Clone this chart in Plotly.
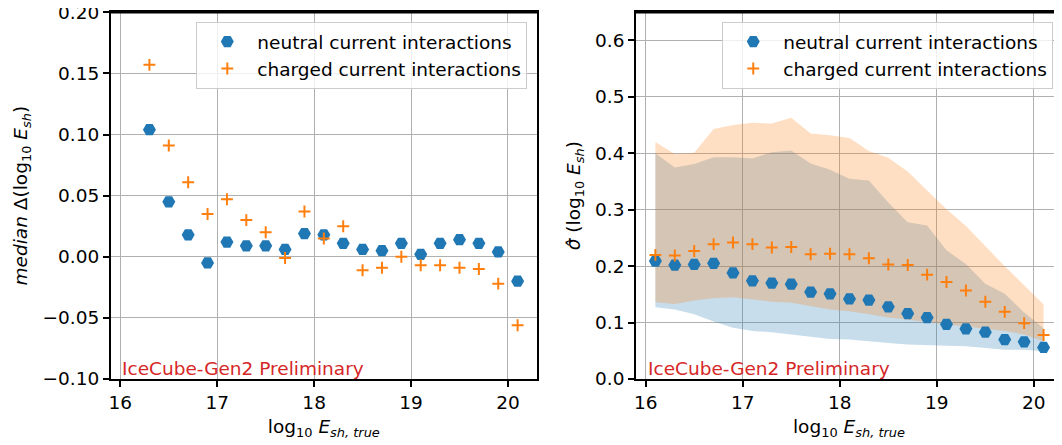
import plotly.graph_objects as go

# ---------------- data ----------------
x_left = [16.3, 16.5, 16.7, 16.9, 17.1, 17.3, 17.5, 17.7, 17.9, 18.1,
          18.3, 18.5, 18.7, 18.9, 19.1, 19.3, 19.5, 19.7, 19.9, 20.1]
nc_median = [0.104, 0.045, 0.018, -0.005, 0.012, 0.009, 0.009, 0.006, 0.019, 0.018,
             0.011, 0.006, 0.005, 0.011, 0.002, 0.011, 0.014, 0.011, 0.004, -0.020]
cc_median = [0.157, 0.091, 0.061, 0.035, 0.047, 0.030, 0.020, -0.001, 0.037, 0.015,
             0.025, -0.011, -0.009, 0.000, -0.007, -0.007, -0.009, -0.010, -0.022, -0.056]

x_right = [16.1, 16.3, 16.5, 16.7, 16.9, 17.1, 17.3, 17.5, 17.7, 17.9, 18.1,
           18.3, 18.5, 18.7, 18.9, 19.1, 19.3, 19.5, 19.7, 19.9, 20.1]
nc_sigma = [0.209, 0.202, 0.203, 0.205, 0.188, 0.174, 0.170, 0.168, 0.154, 0.151, 0.142,
            0.140, 0.128, 0.116, 0.109, 0.097, 0.089, 0.083, 0.070, 0.066, 0.056]
cc_sigma = [0.220, 0.219, 0.227, 0.239, 0.242, 0.239, 0.233, 0.234, 0.221, 0.222, 0.221,
            0.214, 0.203, 0.202, 0.185, 0.172, 0.157, 0.137, 0.119, 0.099, 0.078]
nc_upper = [0.400, 0.375, 0.381, 0.393, 0.393, 0.391, 0.402, 0.405, 0.382, 0.371, 0.355,
            0.352, 0.313, 0.278, 0.272, 0.228, 0.204, 0.169, 0.151, 0.118, 0.090]
nc_lower = [0.127, 0.123, 0.115, 0.102, 0.091, 0.085, 0.083, 0.079, 0.075, 0.071, 0.070,
            0.067, 0.064, 0.061, 0.060, 0.059, 0.058, 0.055, 0.052, 0.052, 0.049]
cc_upper = [0.420, 0.399, 0.401, 0.443, 0.450, 0.454, 0.453, 0.463, 0.435, 0.432, 0.427,
            0.404, 0.392, 0.368, 0.334, 0.301, 0.271, 0.235, 0.200, 0.166, 0.132]
cc_lower = [0.136, 0.133, 0.139, 0.143, 0.145, 0.141, 0.137, 0.135, 0.129, 0.123, 0.120,
            0.115, 0.109, 0.105, 0.102, 0.098, 0.093, 0.089, 0.085, 0.079, 0.067]

x_ticks = [16, 17, 18, 19, 20]
y_ticks_left = [-0.10, -0.05, 0.00, 0.05, 0.10, 0.15, 0.20]
y_ticks_right = [0.0, 0.1, 0.2, 0.3, 0.4, 0.5, 0.6]

nc_name = "neutral current interactions"
cc_name = "charged current interactions"
watermark = "IceCube-Gen2 Preliminary"

BLUE = "#1f77b4"
ORANGE = "#ff7f0e"
RED = "#d62728"
FONT = "DejaVu Sans"
FS = 18.5

fig = go.Figure()

hex_marker = dict(symbol="hexagon2", size=13, color=BLUE)
plus_marker = dict(symbol="cross-thin", size=8.5, color=ORANGE,
                   line=dict(color=ORANGE, width=2))

# ---------------- left panel ----------------
fig.add_trace(go.Scatter(x=x_left, y=nc_median, mode="markers", name=nc_name,
                         marker=hex_marker, legendgroup="nc",
                         xaxis="x", yaxis="y", legend="legend"))
fig.add_trace(go.Scatter(x=x_left, y=cc_median, mode="markers", name=cc_name,
                         marker=plus_marker, legendgroup="cc",
                         xaxis="x", yaxis="y", legend="legend"))

# ---------------- right panel ----------------
fig.add_trace(go.Scatter(x=x_right + x_right[::-1], y=nc_upper + nc_lower[::-1],
                         fill="toself", fillcolor="rgba(31,119,180,0.25)",
                         line=dict(width=0), mode="lines", showlegend=False,
                         hoverinfo="skip", xaxis="x2", yaxis="y2"))
fig.add_trace(go.Scatter(x=x_right + x_right[::-1], y=cc_upper + cc_lower[::-1],
                         fill="toself", fillcolor="rgba(255,127,14,0.25)",
                         line=dict(width=0), mode="lines", showlegend=False,
                         hoverinfo="skip", xaxis="x2", yaxis="y2"))
fig.add_trace(go.Scatter(x=x_right, y=nc_sigma, mode="markers", name=nc_name,
                         marker=hex_marker, legendgroup="nc2",
                         xaxis="x2", yaxis="y2", legend="legend2"))
fig.add_trace(go.Scatter(x=x_right, y=cc_sigma, mode="markers", name=cc_name,
                         marker=plus_marker, legendgroup="cc2",
                         xaxis="x2", yaxis="y2", legend="legend2"))

xtitle = "log<sub>10</sub> <i>E<sub>sh, true</sub></i>"

axis_common = dict(
    showline=True, linecolor="black", linewidth=1.5,
    ticks="outside", ticklen=6, tickwidth=1.5, tickcolor="black",
    showgrid=True, gridcolor="#b0b0b0", gridwidth=1.3,
    zeroline=False, automargin=False, ticklabeloverflow="allow",
    tickfont=dict(family=FONT, size=FS, color="black"),
)

ydom = [0.1510, 0.9902]
xdom_left = [0.0974, 0.5019]
xdom_right = [0.5958, 1.0]

legend_common = dict(
    xanchor="right", yanchor="top",
    bgcolor="rgba(255,255,255,0.8)", bordercolor="#cccccc", borderwidth=1,
    font=dict(family=FONT, size=FS), tracegroupgap=0, itemwidth=50,
)

frame = dict(color="black", width=2.2)

fig.update_layout(
    template="none",
    width=1054, height=437,
    margin=dict(l=0, r=0, t=0, b=0, autoexpand=False),
    paper_bgcolor="white", plot_bgcolor="white",
    font=dict(family=FONT, size=FS, color="black"),
    xaxis=dict(axis_common, domain=xdom_left, range=[15.9, 20.3],
               tickvals=x_ticks, anchor="y", mirror=True,
               title=dict(text=xtitle, standoff=8, font=dict(size=FS))),
    yaxis=dict(axis_common, domain=ydom, range=[-0.1, 0.2],
               tickvals=y_ticks_left, tickformat=".2f", anchor="x", mirror=True,
               title=dict(text="<i>median</i> Δ(log<sub>10</sub> <i>E<sub>sh</sub></i>)",
                          standoff=10, font=dict(size=FS))),
    xaxis2=dict(axis_common, domain=xdom_right, range=[15.9, 20.29],
                tickvals=x_ticks, anchor="y2", mirror=True,
                title=dict(text=xtitle, standoff=8, font=dict(size=FS))),
    yaxis2=dict(axis_common, domain=ydom, range=[0, 0.65],
                tickvals=y_ticks_right, tickformat=".1f", anchor="x2", mirror=False,
                title=dict(text="<i>σ̂</i> (log<sub>10</sub> <i>E<sub>sh</sub></i>)",
                           standoff=10, font=dict(size=FS))),
    legend=dict(legend_common, x=0.4927, y=0.968),
    legend2=dict(legend_common, x=0.9917, y=0.968),
    shapes=[
        dict(type="line", xref="paper", yref="paper",
             x0=xdom_left[0], x1=xdom_left[1], y0=ydom[1], y1=ydom[1],
             line=frame, layer="above"),
        dict(type="line", xref="paper", yref="paper",
             x0=xdom_right[0], x1=xdom_right[1], y0=ydom[1], y1=ydom[1],
             line=frame, layer="above"),
    ],
    annotations=[
        dict(x=16, y=-0.1, xref="x", yref="y", text=watermark, showarrow=False,
             xanchor="left", yanchor="bottom", yshift=-2,
             font=dict(color=RED, size=FS, family=FONT)),
        dict(x=16, y=0.0, xref="x2", yref="y2", text=watermark, showarrow=False,
             xanchor="left", yanchor="bottom", yshift=-2,
             font=dict(color=RED, size=FS, family=FONT)),
    ],
)

fig.write_html("out.html")
